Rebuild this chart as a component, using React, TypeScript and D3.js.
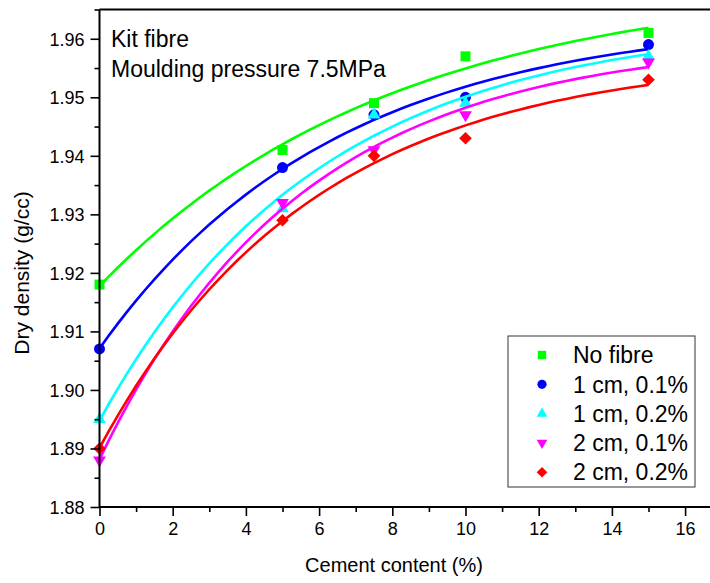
import * as d3 from 'd3';
import { useRef, useEffect } from 'react';

// cement content (%) and dry density (g/cc) per fibre case
const cement = [0, 5, 7.5, 10, 15];
const noFibre = [1.918, 1.941, 1.949, 1.957, 1.961];
const cm1Pct01 = [1.907, 1.938, 1.947, 1.95, 1.959];
const cm1Pct02 = [1.895, 1.931, 1.947, 1.949, 1.957];
const cm2Pct01 = [1.888, 1.932, 1.941, 1.947, 1.956];
const cm2Pct02 = [1.89, 1.929, 1.94, 1.943, 1.953];

const seriesNames = ['No fibre', '1 cm, 0.1%', '1 cm, 0.2%', '2 cm, 0.1%', '2 cm, 0.2%'];
const seriesValues = [noFibre, cm1Pct01, cm1Pct02, cm2Pct01, cm2Pct02];
const seriesColors = ['#00ff00', '#0000ff', '#00ffff', '#ff00ff', '#ff0000'];

const xTicks = [0, 2, 4, 6, 8, 10, 12, 14, 16];
const yTicks = [1.88, 1.89, 1.9, 1.91, 1.92, 1.93, 1.94, 1.95, 1.96];

const FONT = '"Liberation Sans", Arial, sans-serif';

// least squares fit y = a + b*exp(-x/t), t by grid search
function expFit(xs, ys) {
    let best = null;
    for (let t = 0.5; t <= 300; t += 0.1) {
        const e = xs.map((v) => Math.exp(-v / t));
        const n = xs.length;
        const me = d3.mean(e), my = d3.mean(ys);
        let sxy = 0, sxx = 0;
        for (let i = 0; i < n; i++) {
            sxy += (e[i] - me) * (ys[i] - my);
            sxx += (e[i] - me) ** 2;
        }
        const b = sxy / sxx;
        const a = my - b * me;
        const sse = d3.sum(xs, (v, i) => (a + b * e[i] - ys[i]) ** 2);
        if (!best || sse < best.sse) best = { a, b, t, sse };
    }
    return (v) => best.a + best.b * Math.exp(-v / best.t);
}

function symbolPath(i, big) {
    const k = big ? 1 : 0.7;
    if (i === 0) return d3.symbol(d3.symbolSquare, 100 * k)();
    if (i === 1) return d3.symbol(d3.symbolCircle, 95 * k)();
    if (i === 2 || i === 3) return d3.symbol(d3.symbolTriangle, 70 * k)();
    return d3.symbol(d3.symbolSquare, 80 * k)();
}

function symbolRotate(i) {
    if (i === 3) return 180;
    if (i === 4) return 45;
    return 0;
}

function Chart({
    width = 710,
    height = 583,
    marginLeft = 99.5,
    marginTop = 9.5,
    bottomY = 507,
}) {
    const gx = useRef();
    const gxMinor = useRef();
    const gy = useRef();
    const gyMinor = useRef();

    const x = d3.scaleLinear([0, 17], [marginLeft, marginLeft + 17 * 36.6]);
    const y = d3.scaleLinear([1.88, 1.965], [bottomY, marginTop]);

    useEffect(() => {
        const ax = d3.select(gx.current).call(
            d3.axisBottom(x).tickValues(xTicks).tickSize(9).tickPadding(6).tickFormat(d3.format('d'))
        );
        d3.select(gxMinor.current).call(
            d3.axisBottom(x).tickValues(d3.range(1, 17, 2)).tickSize(5).tickFormat(() => '')
        );
        const ay = d3.select(gy.current).call(
            d3.axisLeft(y).tickValues(yTicks).tickSize(9).tickPadding(6).tickFormat(d3.format('.2f'))
        );
        d3.select(gyMinor.current).call(
            d3.axisLeft(y).tickValues(d3.range(1.885, 1.965, 0.01)).tickSize(5).tickFormat(() => '')
        );
        [gx, gxMinor, gy, gyMinor].forEach((r) => {
            const g = d3.select(r.current);
            g.select('.domain').remove();
            g.selectAll('line').attr('stroke', '#000').attr('stroke-width', 1.6);
        });
        ax.selectAll('text').attr('font-size', 18).attr('font-family', FONT).attr('fill', '#000');
        ay.selectAll('text').attr('font-size', 18).attr('font-family', FONT).attr('fill', '#000').attr('dy', '0.35em');
    }, [x, y]);

    const line = d3.line()
        .x((d) => x(d[0]))
        .y((d) => y(d[1]));

    const legendX = 508;
    const legendY = 336;

    return (
        <svg width={width} height={height} style={{ position: 'absolute', left: 0, top: 0, background: '#fff' }}>
            <g>
                {seriesValues.map((vals, i) => {
                    const f = expFit(cement, vals);
                    const pts = d3.range(0, 15.001, 0.25).map((c) => [c, f(c)]);
                    return (
                        <g key={i}>
                            <path d={line(pts)} fill="none" stroke={seriesColors[i]} strokeWidth={2.6} />
                            {vals.map((v, j) => (
                                <path
                                    key={j}
                                    d={symbolPath(i, true)}
                                    transform={`translate(${x(cement[j])},${y(v)}) rotate(${symbolRotate(i)})`}
                                    fill={seriesColors[i]}
                                />
                            ))}
                        </g>
                    );
                })}
            </g>

            {/* frame */}
            <line x1={marginLeft} x2={width + 20} y1={bottomY} y2={bottomY} stroke="#000" strokeWidth={2} />
            <line x1={marginLeft} x2={width + 20} y1={marginTop} y2={marginTop} stroke="#000" strokeWidth={2} />
            <line x1={marginLeft} x2={marginLeft} y1={marginTop} y2={bottomY} stroke="#000" strokeWidth={2} />

            <g ref={gxMinor} transform={`translate(0,${bottomY})`} />
            <g ref={gx} transform={`translate(0,${bottomY})`} />
            <g ref={gyMinor} transform={`translate(${marginLeft},0)`} />
            <g ref={gy} transform={`translate(${marginLeft},0)`} />

            <text x={394} y={572} textAnchor="middle" fontSize={20} fontFamily={FONT}>
                Cement content (%)
            </text>
            <text transform="translate(29,273) rotate(-90)" textAnchor="middle" fontSize={21} fontFamily={FONT}>
                Dry density (g/cc)
            </text>

            <text x={111} y={47} fontSize={23} fontFamily={FONT}>Kit fibre</text>
            <text x={111} y={77} fontSize={23} fontFamily={FONT}>Moulding pressure 7.5MPa</text>

            <g>
                <rect x={legendX} y={legendY} width={187} height={151} fill="#fff" stroke="#333" strokeWidth={1} />
                {seriesNames.map((name, i) => {
                    const cy = legendY + 19 + i * 29.3;
                    return (
                        <g key={name}>
                            <path
                                d={symbolPath(i, false)}
                                transform={`translate(542,${cy}) rotate(${symbolRotate(i)})`}
                                fill={seriesColors[i]}
                            />
                            <text x={573} y={cy} dy="0.36em" fontSize={23} fontFamily={FONT}>{name}</text>
                        </g>
                    );
                })}
            </g>
        </svg>
    );
}

export default function App() {
    return <Chart />;
}
